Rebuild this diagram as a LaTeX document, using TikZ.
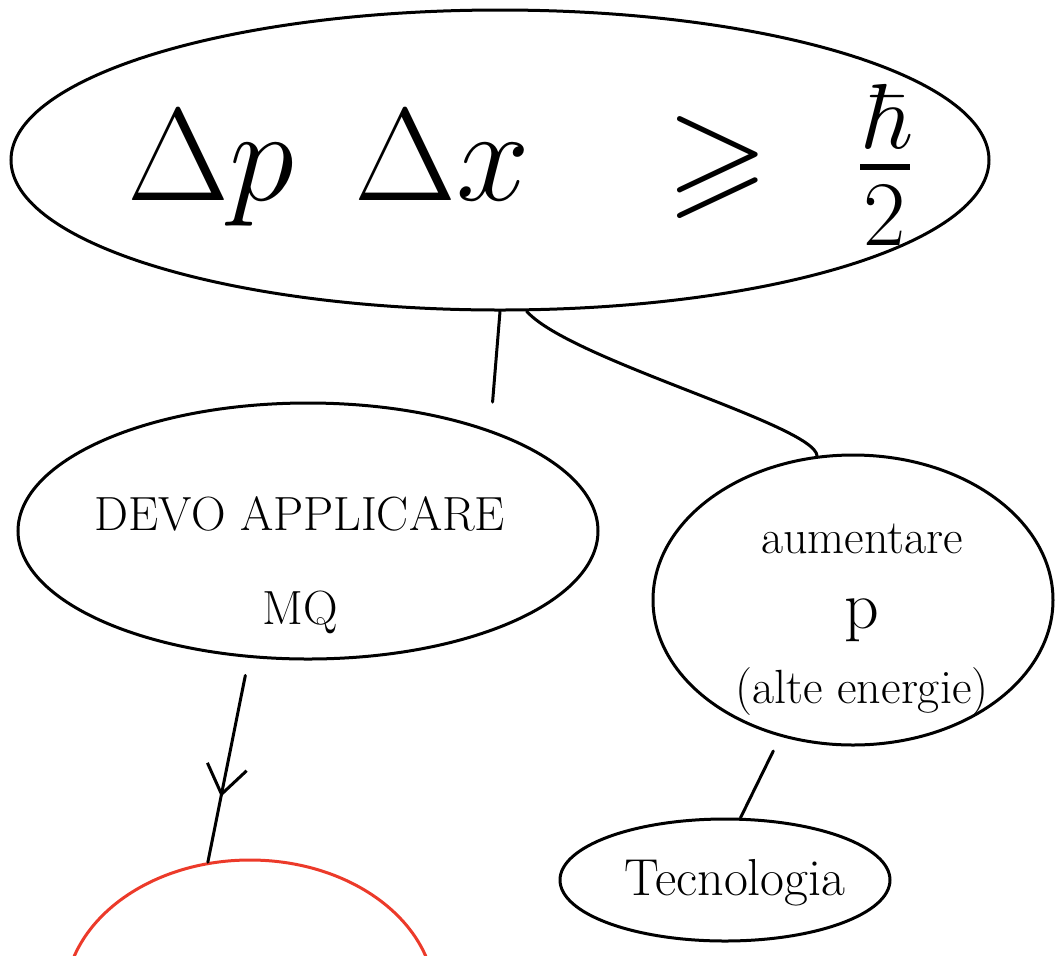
\RequirePackage{fix-cm}
\documentclass[tikz,border=0pt]{standalone}
\usepackage{amsmath, amssymb}
\usetikzlibrary{shapes.geometric}
\usetikzlibrary{decorations.markings}
\usetikzlibrary{arrows.meta}
\usetikzlibrary{positioning}

\definecolor{inkred}{RGB}{236,58,42}

\begin{document}
\begin{tikzpicture}[x=0.5pt, y=-0.5pt,
    bubble/.style={ellipse, draw=black, line width=1.5pt, inner sep=0pt},
    link/.style={line width=1.5pt, line cap=round},
    inktext/.style={align=center, inner sep=0pt}]

        % Canvas (page = picture)
        \useasboundingbox (0,0) rectangle (1056,955);
        \clip (0,0) rectangle (1056,955);

        % Uncertainty relation
        \node[bubble, minimum width=489pt, minimum height=150pt] (heis) at (500,160) {};
        \node[inktext, anchor=base, font=\fontsize{66}{70}\selectfont] (heistext) at (520,200)
          {$\Delta p\hspace{30pt}\Delta x\hspace{50pt}\geqslant\hspace{26pt}\frac{\hbar}{2}$};

        % Left bubble
        \node[bubble, minimum width=290pt, minimum height=128pt] (devo) at (308,531) {};
        \node[inktext, font=\fontsize{24}{47}\selectfont] (devotext) at (300,565)
          {DEVO APPLICARE\\MQ};

        % Right bubble
        \node[bubble, minimum width=200pt, minimum height=145pt] (aum) at (853,600) {};
        \node[inktext, font=\fontsize{24}{37.5}\selectfont] (aumtext) at (862,620)
          {aumentare\\{\fontsize{34}{37.5}\selectfont p}\\(alte energie)};

        % Technology bubble
        \node[bubble, minimum width=165pt, minimum height=61pt] (tec) at (725,880) {};
        \node[inktext, anchor=base, font=\fontsize{26}{30}\selectfont] (tectext) at (735,895)
          {Tecnologia};

        % Red bubble, cut by the page edge
        \node[bubble, draw=inkred, minimum width=185pt, minimum height=140pt] (red) at (250,1000) {};

        % Connectors
        \draw[link, shorten >=14pt] (heis.-90) -- (devo.29);
        \draw[link] (heis.-80) .. controls (570,360) and (815,425) .. (aum.104);
        \draw[link, shorten <=9pt, postaction={decorate},
              decoration={markings, mark=at position 0.68 with {\arrow{Straight Barb[length=14pt, width=20pt]}}}]
              (devo.245) -- (red.107);
        \draw[link, shorten <=8pt] (aum.242) -- (tec.76);

      \end{tikzpicture}
\end{document}
